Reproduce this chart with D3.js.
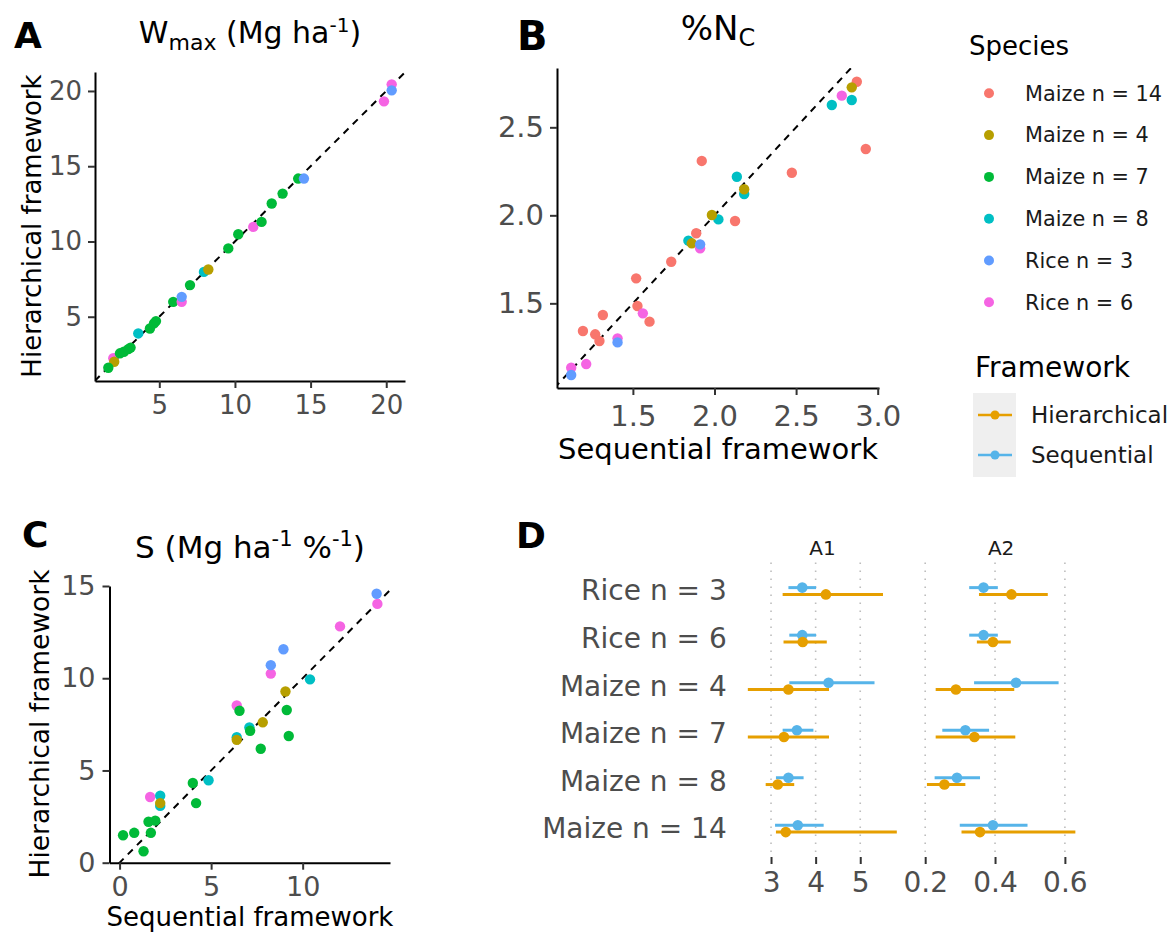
<!DOCTYPE html>
<html>
<head>
<meta charset="utf-8">
<script src="https://cdn.jsdelivr.net/npm/d3@7"></script>
<style>
  body { margin: 0; background: #fff; }
  text { font-family: "DejaVu Sans", sans-serif; }
</style>
</head>
<body>
<svg id="chart" width="1174" height="934"></svg>
<script>
const species = ["Maize n = 14", "Maize n = 4", "Maize n = 7", "Maize n = 8", "Rice n = 3", "Rice n = 6"];
const speciesColors = ["#F8766D", "#B79F00", "#00BA38", "#00BFC4", "#619CFF", "#F564E3"];

// [species, sequential, hierarchical]
const wmaxPoints = [
  ["Rice n = 6", 1.96, 2.24], ["Maize n = 4", 2.02, 2.01], ["Maize n = 7", 1.63, 1.61],
  ["Maize n = 7", 2.40, 2.57], ["Maize n = 7", 2.66, 2.67], ["Maize n = 7", 2.95, 2.85],
  ["Maize n = 7", 3.10, 2.95], ["Maize n = 8", 3.61, 3.89], ["Maize n = 7", 4.38, 4.22],
  ["Maize n = 7", 4.65, 4.56], ["Maize n = 7", 4.78, 4.71], ["Maize n = 7", 5.92, 5.99],
  ["Rice n = 6", 6.48, 5.99], ["Rice n = 3", 6.48, 6.32], ["Maize n = 7", 7.03, 7.10],
  ["Maize n = 8", 7.95, 7.98], ["Maize n = 4", 8.24, 8.14], ["Maize n = 7", 9.56, 9.54],
  ["Maize n = 7", 10.22, 10.48], ["Rice n = 6", 11.21, 10.97], ["Maize n = 7", 11.76, 11.30],
  ["Maize n = 7", 12.43, 12.52], ["Maize n = 7", 13.15, 13.18], ["Maize n = 7", 14.18, 14.18],
  ["Rice n = 3", 14.56, 14.18], ["Rice n = 6", 19.85, 19.31], ["Rice n = 6", 20.36, 20.44],
  ["Rice n = 3", 20.36, 20.04]
];

const ncPoints = [
  ["Rice n = 6", 1.122, 1.134], ["Rice n = 3", 1.122, 1.093], ["Rice n = 6", 1.214, 1.155],
  ["Maize n = 14", 1.194, 1.343], ["Maize n = 14", 1.269, 1.324], ["Maize n = 14", 1.295, 1.286],
  ["Maize n = 14", 1.316, 1.434], ["Rice n = 6", 1.406, 1.301], ["Rice n = 3", 1.406, 1.278],
  ["Maize n = 14", 1.520, 1.642], ["Maize n = 14", 1.528, 1.485], ["Rice n = 6", 1.561, 1.443],
  ["Maize n = 14", 1.602, 1.396], ["Maize n = 14", 1.735, 1.736], ["Maize n = 14", 1.888, 1.898],
  ["Maize n = 8", 1.840, 1.856], ["Maize n = 4", 1.861, 1.841], ["Rice n = 6", 1.912, 1.813],
  ["Rice n = 3", 1.912, 1.835], ["Maize n = 14", 1.922, 2.309], ["Maize n = 8", 2.024, 1.977],
  ["Maize n = 4", 1.984, 2.002], ["Maize n = 14", 2.126, 1.968], ["Maize n = 8", 2.137, 2.219],
  ["Maize n = 8", 2.182, 2.121], ["Maize n = 4", 2.182, 2.148], ["Maize n = 14", 2.474, 2.242],
  ["Maize n = 8", 2.719, 2.627], ["Rice n = 6", 2.780, 2.680], ["Maize n = 14", 2.872, 2.759],
  ["Maize n = 8", 2.841, 2.655], ["Maize n = 4", 2.841, 2.727], ["Maize n = 14", 2.927, 2.377]
];

const slopePoints = [
  ["Maize n = 7", 0.19, 1.49], ["Maize n = 7", 0.80, 1.62], ["Maize n = 7", 1.31, 0.62],
  ["Maize n = 7", 1.58, 2.22], ["Maize n = 7", 1.71, 1.62], ["Maize n = 7", 1.95, 2.28],
  ["Rice n = 6", 1.67, 3.56], ["Maize n = 8", 2.22, 3.63], ["Maize n = 8", 2.22, 3.08],
  ["Maize n = 4", 2.22, 3.23], ["Maize n = 7", 4.00, 4.32], ["Maize n = 7", 4.18, 3.23],
  ["Maize n = 8", 4.86, 4.47], ["Rice n = 6", 6.40, 8.52], ["Maize n = 8", 6.40, 6.80],
  ["Maize n = 4", 6.40, 6.66], ["Maize n = 7", 6.55, 8.24], ["Maize n = 8", 7.09, 7.33],
  ["Maize n = 7", 7.13, 7.15], ["Maize n = 4", 7.82, 7.61], ["Maize n = 7", 7.71, 6.18],
  ["Rice n = 6", 8.26, 10.25], ["Rice n = 3", 8.26, 10.71], ["Rice n = 3", 8.95, 11.57],
  ["Maize n = 4", 9.06, 9.28], ["Maize n = 7", 9.13, 8.28], ["Maize n = 7", 9.24, 6.87],
  ["Maize n = 8", 10.40, 9.94], ["Rice n = 6", 12.04, 12.81], ["Rice n = 6", 14.08, 14.03],
  ["Rice n = 3", 14.04, 14.58]
];

// panel D: [estimate, lower, upper]
const dRows = ["Rice n = 3", "Rice n = 6", "Maize n = 4", "Maize n = 7", "Maize n = 8", "Maize n = 14"];
const frameworks = ["Hierarchical", "Sequential"];
const frameworkColors = ["#E69F00", "#56B4E9"];
const a1Sequential = [[3.70, 3.39, 4.01], [3.70, 3.41, 4.01], [4.29, 3.41, 5.32], [3.58, 3.26, 3.95], [3.39, 3.11, 3.73], [3.60, 3.09, 4.18]];
const a1Hierarchical = [[4.23, 3.26, 5.51], [3.71, 3.28, 4.25], [3.39, 2.48, 4.30], [3.29, 2.48, 4.30], [3.15, 2.88, 3.52], [3.33, 3.11, 5.82]];
const a2Sequential = [[0.367, 0.326, 0.408], [0.367, 0.326, 0.408], [0.460, 0.340, 0.582], [0.315, 0.249, 0.383], [0.291, 0.227, 0.357], [0.394, 0.299, 0.493]];
const a2Hierarchical = [[0.447, 0.354, 0.551], [0.394, 0.348, 0.445], [0.288, 0.230, 0.455], [0.341, 0.230, 0.458], [0.255, 0.205, 0.315], [0.357, 0.304, 0.630]];

const svg = d3.select("#chart");
svg.append("rect").attr("width", 1174).attr("height", 934).attr("fill", "#fff");

const color = d3.scaleOrdinal().domain(species).range(speciesColors);

function styleAxis(g, fs) {
  g.attr("font-size", fs).attr("font-family", "DejaVu Sans");
  g.select(".domain").attr("stroke", "#000").attr("stroke-width", 2);
  g.selectAll(".tick line").attr("stroke", "#333").attr("stroke-width", 2);
  g.selectAll(".tick text").attr("fill", "#4D4D4D");
}

function scatterPanel(p) {
  const x = d3.scaleLinear().domain(p.xDomain).range([p.left, p.right]);
  const y = d3.scaleLinear().domain(p.yDomain).range([p.bottom, p.top]);

  svg.append("clipPath").attr("id", "clip-" + p.id)
    .append("rect")
    .attr("x", p.left).attr("y", p.top)
    .attr("width", p.right - p.left).attr("height", p.bottom - p.top);

  const lo = Math.min(p.xDomain[0], p.yDomain[0]);
  const hi = Math.max(p.xDomain[1], p.yDomain[1]);
  svg.append("line")
    .attr("clip-path", `url(#clip-${p.id})`)
    .attr("x1", x(lo)).attr("y1", y(lo))
    .attr("x2", x(hi)).attr("y2", y(hi))
    .attr("stroke", "#000").attr("stroke-width", 2)
    .attr("stroke-dasharray", "7,6");

  svg.append("g").selectAll("circle")
    .data(p.data)
    .enter()
    .append("circle")
    .attr("cx", d => x(d[1]))
    .attr("cy", d => y(d[2]))
    .attr("r", 5.2)
    .attr("fill", d => color(d[0]));

  const gx = svg.append("g")
    .attr("transform", `translate(0,${p.bottom})`)
    .call(d3.axisBottom(x).tickValues(p.xTicks).tickFormat(p.fmt)
      .tickSizeInner(7).tickSizeOuter(0).tickPadding(p.xPad));
  styleAxis(gx, p.tickFont);

  const gy = svg.append("g")
    .attr("transform", `translate(${p.left},0)`)
    .call(d3.axisLeft(y).tickValues(p.yTicks).tickFormat(p.fmt)
      .tickSizeInner(7).tickSizeOuter(0).tickPadding(p.yPad));
  styleAxis(gy, p.tickFont);
}

scatterPanel({
  id: "a", data: wmaxPoints, left: 95, right: 405, top: 72, bottom: 381,
  xDomain: [0.75, 21.24], yDomain: [0.73, 21.26],
  xTicks: [5, 10, 15, 20], yTicks: [5, 10, 15, 20], fmt: d3.format("d"),
  tickFont: 26, xPad: 8, yPad: 6
});
scatterPanel({
  id: "b", data: ncPoints, left: 557, right: 879, top: 68, bottom: 388,
  xDomain: [1.035, 3.008], yDomain: [1.019, 2.837],
  xTicks: [1.5, 2.0, 2.5, 3.0], yTicks: [1.5, 2.0, 2.5], fmt: d3.format(".1f"),
  tickFont: 29, xPad: 10, yPad: 6
});
scatterPanel({
  id: "c", data: slopePoints, left: 109.5, right: 390, top: 586, bottom: 862.7,
  xDomain: [-0.55, 14.77], yDomain: [0, 15.0],
  xTicks: [0, 5, 10], yTicks: [0, 5, 10, 15], fmt: d3.format("d"),
  tickFont: 27, xPad: 7, yPad: 7
});

// panel letters
const letters = [["A", 14, 48, 36], ["B", 517, 50, 40], ["C", 22, 547, 36], ["D", 516, 548, 36]];
svg.selectAll(".letter")
  .data(letters)
  .enter()
  .append("text")
  .attr("class", "letter")
  .attr("x", d => d[1]).attr("y", d => d[2])
  .attr("font-size", d => d[3]).attr("font-weight", "bold")
  .text(d => d[0]);

// titles
const tA = svg.append("text").attr("x", 250).attr("y", 43).attr("text-anchor", "middle").attr("font-size", 30);
tA.append("tspan").text("W");
tA.append("tspan").attr("font-size", 22).attr("dy", 7).text("max");
tA.append("tspan").attr("dy", -7).text(" (Mg ha");
tA.append("tspan").attr("font-size", 20).attr("dy", -11).text("-1");
tA.append("tspan").attr("dy", 11).text(")");

const tB = svg.append("text").attr("x", 718).attr("y", 40).attr("text-anchor", "middle").attr("font-size", 34);
tB.append("tspan").text("%N");
tB.append("tspan").attr("font-size", 24).attr("dy", 6).text("C");

const tC = svg.append("text").attr("x", 250).attr("y", 558).attr("text-anchor", "middle").attr("font-size", 31);
tC.append("tspan").text("S (Mg ha");
tC.append("tspan").attr("font-size", 21).attr("dy", -12).text("-1");
tC.append("tspan").attr("dy", 12).text(" %");
tC.append("tspan").attr("font-size", 21).attr("dy", -12).text("-1");
tC.append("tspan").attr("dy", 12).text(")");

// axis titles
svg.append("text").attr("transform", "translate(41,226) rotate(-90)")
  .attr("text-anchor", "middle").attr("font-size", 26).text("Hierarchical framework");
svg.append("text").attr("transform", "translate(49,724) rotate(-90)")
  .attr("text-anchor", "middle").attr("font-size", 26.5).text("Hierarchical framework");
svg.append("text").attr("x", 718).attr("y", 459)
  .attr("text-anchor", "middle").attr("font-size", 29).text("Sequential framework");
svg.append("text").attr("x", 250).attr("y", 926)
  .attr("text-anchor", "middle").attr("font-size", 26).text("Sequential framework");

// panel D
const yD = d3.scalePoint().domain(dRows).range([562.5, 857.2]).padding(0.6);
const dodge = { Sequential: -3.4, Hierarchical: 3.4 };
const fwColor = d3.scaleOrdinal().domain(frameworks).range(frameworkColors);

const facets = [
  { name: "A1", domain: [2.32, 5.99], range: [740.7, 904.4], ticks: [3, 4, 5], fmt: d3.format("d"),
    series: [["Sequential", a1Sequential], ["Hierarchical", a1Hierarchical]] },
  { name: "A2", domain: [0.184, 0.651], range: [919.6, 1082.7], ticks: [0.2, 0.4, 0.6], fmt: d3.format(".1f"),
    series: [["Sequential", a2Sequential], ["Hierarchical", a2Hierarchical]] }
];

facets.forEach(f => {
  const x = d3.scaleLinear().domain(f.domain).range(f.range);
  const g = svg.append("g");

  g.selectAll(".grid")
    .data(f.ticks)
    .enter()
    .append("line")
    .attr("x1", d => x(d)).attr("x2", d => x(d))
    .attr("y1", 562.5).attr("y2", 857)
    .attr("stroke", "#BDBDBD").attr("stroke-width", 1.6)
    .attr("stroke-dasharray", "1.6,6.4");

  f.series.forEach(([fw, vals]) => {
    const rows = vals.map((v, i) => ({ row: dRows[i], est: v[0], lo: v[1], hi: v[2] }));
    g.selectAll(null)
      .data(rows)
      .enter()
      .append("line")
      .attr("x1", d => x(d.lo)).attr("x2", d => x(d.hi))
      .attr("y1", d => yD(d.row) + dodge[fw]).attr("y2", d => yD(d.row) + dodge[fw])
      .attr("stroke", fwColor(fw)).attr("stroke-width", 3);
    g.selectAll(null)
      .data(rows)
      .enter()
      .append("circle")
      .attr("cx", d => x(d.est))
      .attr("cy", d => yD(d.row) + dodge[fw])
      .attr("r", 5.3)
      .attr("fill", fwColor(fw));
  });

  const gx = svg.append("g")
    .attr("transform", "translate(0,857)")
    .call(d3.axisBottom(x).tickValues(f.ticks).tickFormat(f.fmt)
      .tickSizeInner(7).tickSizeOuter(0).tickPadding(8));
  styleAxis(gx, 28);
  gx.select(".domain").remove();

  svg.append("text")
    .attr("x", (f.range[0] + f.range[1]) / 2).attr("y", 555)
    .attr("text-anchor", "middle").attr("font-size", 20).attr("fill", "#1A1A1A")
    .text(f.name);
});

const gyD = svg.append("g")
  .attr("transform", "translate(740.7,0)")
  .call(d3.axisLeft(yD).tickSize(0).tickPadding(14));
styleAxis(gyD, 28);
gyD.select(".domain").remove();

// legends
svg.append("text").attr("x", 969).attr("y", 55).attr("font-size", 26).text("Species");
const sp = svg.append("g").selectAll("g")
  .data(species)
  .enter()
  .append("g")
  .attr("transform", (d, i) => `translate(989,${93.3 + i * 41.8})`);
sp.append("circle").attr("r", 5).attr("fill", d => color(d));
sp.append("text").attr("x", 36).attr("dy", "0.35em").attr("font-size", 20.8).attr("fill", "#1A1A1A").text(d => d);

svg.append("text").attr("x", 975).attr("y", 377).attr("font-size", 28).text("Framework");
svg.append("rect").attr("x", 973).attr("y", 393).attr("width", 43).attr("height", 84).attr("fill", "#EFEFEF");
const fwItems = svg.append("g").selectAll("g")
  .data(frameworks)
  .enter()
  .append("g")
  .attr("transform", (d, i) => `translate(995,${415 + i * 40})`);
fwItems.append("line").attr("x1", -17).attr("x2", 17).attr("stroke", d => fwColor(d)).attr("stroke-width", 2.5);
fwItems.append("circle").attr("r", 4.5).attr("fill", d => fwColor(d));
fwItems.append("text").attr("x", 36).attr("dy", "0.35em").attr("font-size", 23).attr("fill", "#1A1A1A").text(d => d);
</script>
</body>
</html>
